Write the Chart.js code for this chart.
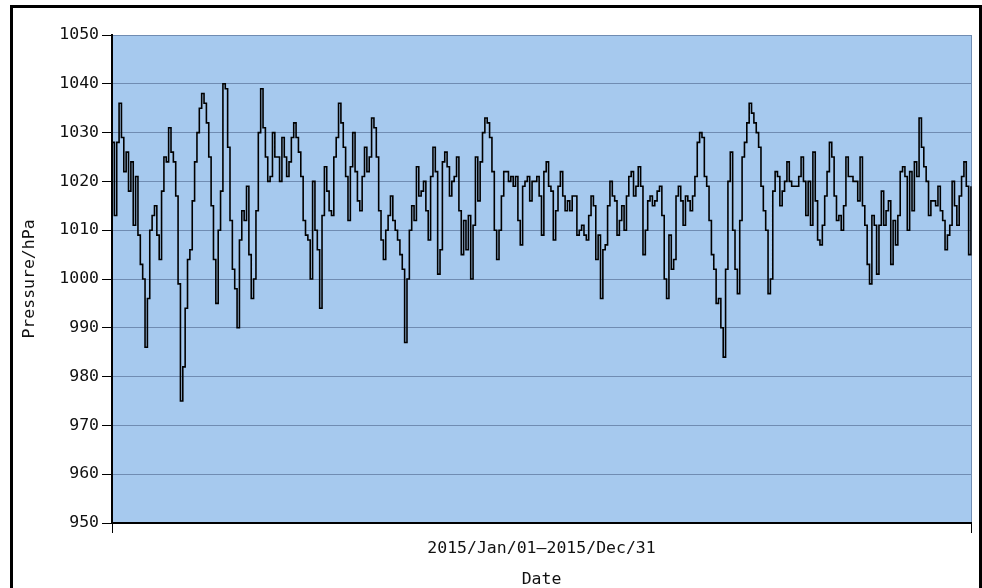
<!DOCTYPE html>
<html>
<head>
<meta charset="utf-8">
<script src="https://cdn.jsdelivr.net/npm/chart.js@4/dist/chart.umd.min.js"></script>
<style>
  html, body { margin: 0; padding: 0; background: #fff; overflow: hidden; }
  #wrap { position: relative; width: 982px; height: 588px; }
  #frame { position: absolute; left: 10px; top: 5px; width: 966px; height: 600px;
           border: 3px solid #000; pointer-events: none; }
</style>
</head>
<body>
<div id="wrap">
  <canvas id="c" width="982" height="588"></canvas>
  <div id="frame"></div>
</div>
<script>
// Daily mean sea-level pressure (hPa) through 2015, one array per month.
const jan = [1028,1013,1028,1036,1029,1022,1026,1018,1024,1011,1021,1009,1003,1000,986,996,1010,1013,1015,1009,1004,1018,1025,1024,1031,1026,1024,1017,999,975,982];
const feb = [994,1004,1006,1016,1024,1030,1035,1038,1036,1032,1025,1015,1004,995,1010,1018,1040,1039,1027,1012,1002,998,990,1008,1014,1012,1019,1005];
const mar = [996,1000,1014,1030,1039,1031,1025,1020,1021,1030,1025,1025,1020,1029,1025,1021,1024,1029,1032,1029,1026,1021,1012,1009,1008,1000,1020,1010,1006,994,1013];
const apr = [1023,1018,1014,1013,1025,1029,1036,1032,1027,1021,1012,1023,1030,1022,1016,1014,1021,1027,1022,1025,1033,1031,1025,1014,1008,1004,1010,1013,1017,1012];
const may = [1010,1008,1005,1002,987,1000,1010,1015,1012,1023,1017,1018,1020,1014,1008,1021,1027,1022,1001,1006,1024,1026,1023,1017,1020,1021,1025,1014,1005,1012,1006];
const jun = [1013,1000,1011,1025,1016,1024,1030,1033,1032,1029,1022,1010,1004,1010,1017,1022,1022,1020,1021,1019,1021,1012,1007,1019,1020,1021,1016,1020,1020,1021];
const jul = [1017,1009,1022,1024,1019,1018,1008,1014,1019,1022,1017,1014,1016,1014,1017,1017,1009,1010,1011,1009,1008,1013,1017,1015,1004,1009,996,1006,1007,1015,1020];
const aug = [1017,1016,1009,1012,1015,1010,1017,1021,1022,1017,1019,1023,1019,1005,1010,1016,1017,1015,1016,1018,1019,1013,1000,996,1009,1002,1004,1017,1019,1016,1011];
const sep = [1017,1016,1014,1017,1021,1028,1030,1029,1021,1019,1012,1005,1002,995,996,990,984,1002,1020,1026,1010,1002,997,1012,1025,1028,1032,1036,1034,1032];
const oct = [1030,1027,1019,1014,1010,997,1000,1018,1022,1021,1015,1018,1020,1024,1020,1019,1019,1019,1021,1025,1020,1013,1020,1011,1026,1016,1008,1007,1011,1017,1022];
const nov = [1028,1025,1017,1012,1013,1010,1015,1025,1021,1021,1020,1020,1016,1025,1015,1011,1003,999,1013,1011,1001,1011,1018,1011,1014,1016,1003,1012,1007,1013];
const dec = [1022,1023,1021,1010,1022,1014,1024,1021,1033,1027,1023,1020,1013,1016,1016,1015,1019,1014,1012,1006,1009,1011,1020,1015,1011,1017,1021,1024,1019,1005,1019];

const pressure = [].concat(jan, feb, mar, apr, may, jun, jul, aug, sep, oct, nov, dec);

// Category labels: one per day, formatted YYYY/Mon/DD
const monthNames = ['Jan','Feb','Mar','Apr','May','Jun','Jul','Aug','Sep','Oct','Nov','Dec'];
const dates = [];
for (let i = 0; i < pressure.length; i++) {
  const d = new Date(Date.UTC(2015, 0, 1 + i));
  dates.push(d.getUTCFullYear() + '/' + monthNames[d.getUTCMonth()] + '/' + String(d.getUTCDate()).padStart(2, '0'));
}
const rangeLabel = dates[0] + '\u2013' + dates[dates.length - 1];

// Axis settings
const yMin = 950, yMax = 1050, yStep = 10;
const yTitle = 'Pressure/hPa';
const xTitle = 'Date';

const font = { family: "'DejaVu Sans Mono', monospace", size: 16.5 };
const gridColor = 'rgb(112,140,178)';
const plotColor = 'rgb(166,201,238)';

const plotBackground = {
  id: 'plotBackground',
  beforeDraw(chart) {
    const { ctx, chartArea: a } = chart;
    ctx.save();
    ctx.fillStyle = plotColor;
    ctx.fillRect(a.left, a.top, a.right - a.left, a.bottom - a.top);
    ctx.restore();
  }
};

new Chart(document.getElementById('c'), {
  type: 'line',
  data: {
    labels: dates,
    datasets: [{
      data: pressure,
      borderColor: '#000',
      borderWidth: 1.6,
      pointRadius: 0,
      stepped: true,
      fill: false
    }]
  },
  plugins: [plotBackground],
  options: {
    responsive: false,
    animation: false,
    devicePixelRatio: 1,
    layout: { padding: { left: 0, top: 35, right: 11, bottom: 0 } },
    plugins: { legend: { display: false }, tooltip: { enabled: false } },
    scales: {
      x: {
        type: 'category',
        offset: false,
        afterBuildTicks(scale) {
          const last = dates.length - 1;
          scale.ticks = [{ value: 0 }, { value: last / 2 }, { value: last }];
        },
        afterFit(scale) { scale.height = 65; },
        ticks: {
          autoSkip: false, maxRotation: 0, minRotation: 0,
          color: '#111', font, padding: 6,
          callback: (v, i) => (i === 1 ? rangeLabel : '')
        },
        grid: {
          drawOnChartArea: true,
          color: ctx => (ctx.index === 2 ? gridColor : 'rgba(0,0,0,0)'),
          tickColor: ctx => (ctx.index === 1 ? 'rgba(0,0,0,0)' : '#000'),
          tickLength: 10,
          lineWidth: 1
        },
        border: { color: '#000', width: 2 },
        title: { display: true, text: xTitle, color: '#111', font, padding: { top: 0, bottom: -2 } }
      },
      y: {
        min: yMin, max: yMax,
        afterFit(scale) { scale.width = 112; },
        ticks: { stepSize: yStep, color: '#111', font, padding: 3, callback: v => String(v) },
        grid: { color: gridColor, lineWidth: 1, tickColor: '#000', tickLength: 10 },
        border: { color: '#000', width: 2 },
        title: { display: true, text: yTitle, color: '#111', font, padding: { top: 20, bottom: 0 } }
      }
    }
  }
});
</script>
</body>
</html>
